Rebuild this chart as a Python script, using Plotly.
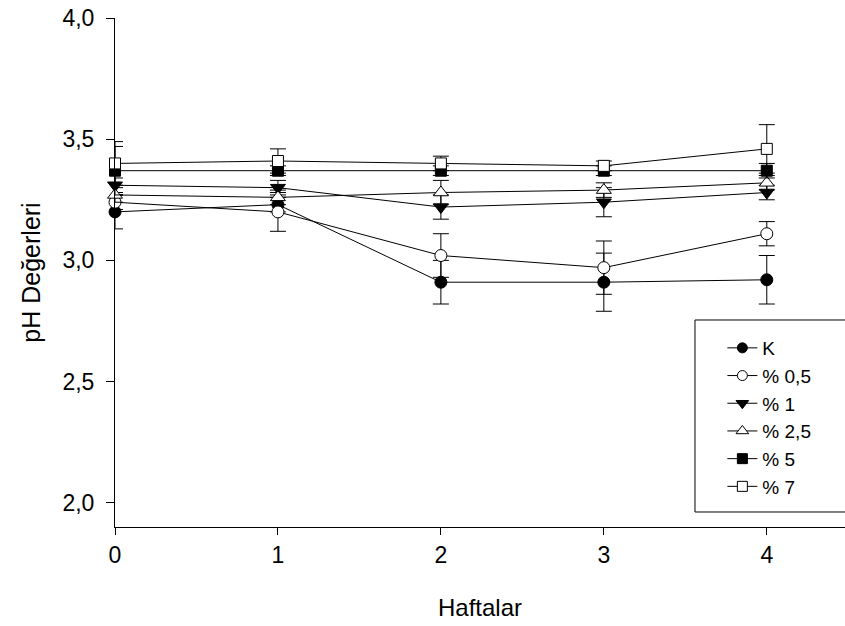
import plotly.graph_objects as go

weeks = [0, 1, 2, 3, 4]
series_names = ["K", "% 0,5", "% 1", "% 2,5", "% 5", "% 7"]

ph_K = [3.20, 3.23, 2.91, 2.91, 2.92]
ph_05 = [3.24, 3.20, 3.02, 2.97, 3.11]
ph_1 = [3.31, 3.30, 3.22, 3.24, 3.28]
ph_25 = [3.27, 3.26, 3.28, 3.29, 3.32]
ph_5 = [3.37, 3.37, 3.37, 3.37, 3.37]
ph_7 = [3.40, 3.41, 3.40, 3.39, 3.46]

err_K = [0.07, 0.03, 0.09, 0.12, 0.10]
err_05 = [0.03, 0.08, 0.09, 0.11, 0.05]
err_1 = [0.03, 0.03, 0.05, 0.06, 0.03]
err_25 = [0.03, 0.03, 0.05, 0.03, 0.03]
err_5 = [0.10, 0.02, 0.02, 0.02, 0.03]
err_7 = [0.09, 0.05, 0.03, 0.02, 0.10]

y_ticks = [2.0, 2.5, 3.0, 3.5, 4.0]

values = [ph_K, ph_05, ph_1, ph_25, ph_5, ph_7]
errors = [err_K, err_05, err_1, err_25, err_5, err_7]
symbols = ["circle", "circle-open", "triangle-down", "triangle-up-open", "square", "square-open"]
sizes = [12, 12, 13, 13, 11, 11]
legend_sizes = [10, 10, 11, 11, 10, 10]

fig = go.Figure()
for i, (name, vals, errs) in enumerate(zip(series_names, values, errors)):
    open_sym = symbols[i].endswith("-open")
    base_sym = symbols[i].replace("-open", "")
    fill = "white" if open_sym else "black"
    fig.add_trace(go.Scatter(
        x=weeks, y=vals, name=name, mode="lines+markers",
        showlegend=False,
        line=dict(color="black", width=1),
        marker=dict(symbol=base_sym, size=sizes[i], color=fill,
                    line=dict(color="black", width=1)),
        error_y=dict(type="data", array=errs, visible=True, color="black",
                     thickness=1, width=8),
        cliponaxis=False,
    ))
    # legend entry (no data drawn)
    fig.add_trace(go.Scatter(
        x=[None], y=[None], name=name, mode="lines+markers",
        legendgroup=f"g{i}",
        line=dict(color="black", width=1),
        marker=dict(symbol=base_sym, size=legend_sizes[i], color=fill,
                    line=dict(color="black", width=1)),
    ))

# legend frame (open on the right, running off the edge as in the original)
bx0, bx1, by0, by1 = 0.7945, 1.0, 0.0295, 0.4067
fig.add_shape(type="rect", xref="paper", yref="paper",
              x0=bx0, x1=bx1, y0=by0, y1=by1,
              line=dict(color="white", width=0), fillcolor="white", layer="above")
for (xa, ya, xb, yb) in [(bx0, by0, bx0, by1), (bx0, by1, bx1, by1), (bx0, by0, bx1, by0)]:
    fig.add_shape(type="line", xref="paper", yref="paper",
                  x0=xa, y0=ya, x1=xb, y1=yb,
                  line=dict(color="black", width=1), layer="above")

font_family = "Liberation Sans, Arial, sans-serif"
fig.update_layout(
    width=845, height=626,
    margin=dict(l=115, r=0, t=18, b=99),
    paper_bgcolor="white", plot_bgcolor="white",
    separators=",.",
    font=dict(family=font_family, color="black", size=23),
    xaxis=dict(range=[0, 4.48], tickvals=weeks, ticks="outside", ticklen=7,
               tickcolor="black", showline=True, linecolor="black", linewidth=1,
               showgrid=False, zeroline=False, tickfont=dict(size=23),
               title=dict(text="Haftalar", font=dict(size=24), standoff=32)),
    yaxis=dict(range=[1.9, 4.0], tickvals=y_ticks, tickformat=".1f",
               ticks="outside", ticklen=8, tickcolor="black", showline=True,
               linecolor="black", linewidth=1, showgrid=False, zeroline=False,
               tickfont=dict(size=23), ticklabelstandoff=7,
               title=dict(text="pH Değerleri", font=dict(size=25), standoff=14)),
    legend=dict(x=0.832, y=0.389, xanchor="left", yanchor="top",
                bgcolor="rgba(0,0,0,0)", borderwidth=0,
                font=dict(size=19), tracegroupgap=0, traceorder="grouped"),
    showlegend=True,
)

fig.write_html("out.html", config={"displayModeBar": False},
               post_script="document.body.style.margin='0';")
